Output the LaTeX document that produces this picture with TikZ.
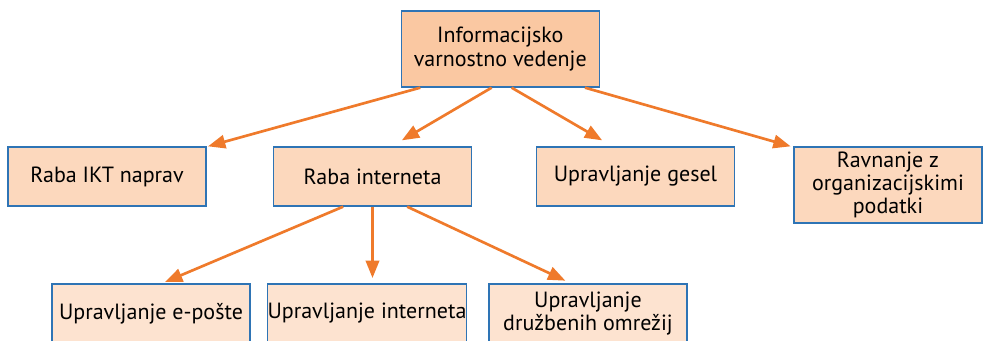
\documentclass[tikz,border=0pt]{standalone}
\usepackage{fontspec}
\setmainfont{PT Sans}
\usetikzlibrary{positioning,arrows.meta}
\definecolor{boxblue}{HTML}{2E74B5}
\definecolor{arrorange}{HTML}{EF7A2B}
\definecolor{fillA}{HTML}{FAC8A2}
\definecolor{fillB}{HTML}{FCD8BD}
\definecolor{fillC}{HTML}{FDE3D0}
\tikzset{
  box/.style={draw=boxblue,line width=1pt,align=center,inner sep=0pt,
    minimum width=148.5pt,minimum height=44.25pt,font=\fontsize{16.5}{17.5}\selectfont},
  arr/.style={draw=arrorange,line width=2pt,-{Triangle[length=13pt,width=10pt]}}
}
\begin{document}
\begin{tikzpicture}[x=0.75pt,y=-0.75pt]
        \useasboundingbox (0,0) rectangle (983,340);
        \clip (0,0) rectangle (983,340);
        \node[box,fill=fillA,minimum height=57pt] (info) at (500.3,49) {Informacijsko\\varnostno vedenje};
        \node[box,fill=fillB] (ikt) at (107,176.5) {Raba IKT naprav};
        \node[box,fill=fillB] (internet) at (372.5,176.5) {Raba interneta};
        \node[box,fill=fillB] (gesla) at (635.5,176.5) {Upravljanje gesel};
        \node[box,fill=fillB,minimum width=141pt,minimum height=57pt] (podatki) at (888,185) {Ravnanje z\\organizacijskimi\\podatki};
        \node[box,fill=fillC] (eposta) at (151,313.5) {Upravljanje e-pošte};
        \node[box,fill=fillC] (upinternet) at (367,313.5) {Upravljanje interneta};
        \node[box,fill=fillC] (omrezja) at (588,313.5) {Upravljanje\\družbenih omrežij};
        \draw[arr] ([xshift=-60pt]info.south) -- ([xshift=1pt]ikt.north east);
        \draw[arr] ([xshift=-6.5pt]info.south) -- ([xshift=22pt,yshift=4.5pt]internet.north);
        \draw[arr] ([xshift=8.5pt]info.south) -- ([xshift=-25pt,yshift=4.5pt]gesla.north);
        \draw[arr] ([xshift=63.5pt]info.south) -- ([xshift=-2pt]podatki.north west);
        \draw[arr] ([xshift=-22pt]internet.south) -- ([xshift=10.5pt,yshift=1pt]eposta.north);
        \draw[arr,shorten >=4pt] (internet.south) -- (internet.south |- upinternet.north);
        \draw[arr] ([xshift=26pt]internet.south) -- ([xshift=-17pt,yshift=2pt]omrezja.north);
    \end{tikzpicture}
\end{document}
